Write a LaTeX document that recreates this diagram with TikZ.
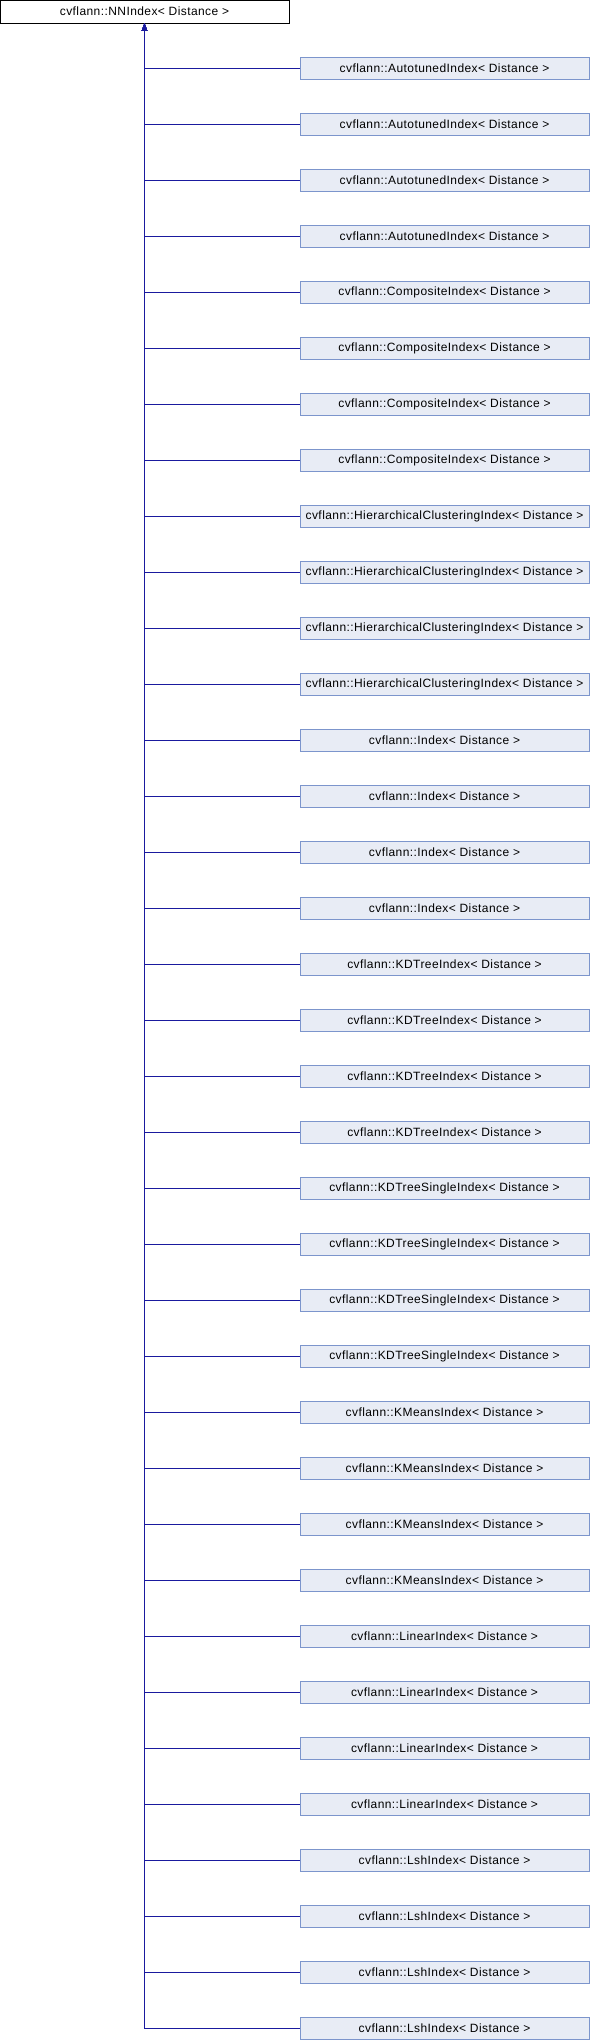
\documentclass[tikz,border=0pt]{standalone}
\usepackage{fontspec}
\setmainfont{Liberation Sans}
\newfontfamily\boxfont[LetterSpace=3.5]{Liberation Sans}
\usepackage{xcolor}
\usetikzlibrary{
    arrows.meta,
    positioning,
    calc
}
\definecolor{edgeblue}{HTML}{1A1A9E}
\definecolor{boxfill}{HTML}{E8ECF5}
\definecolor{boxline}{HTML}{7C95CC}

\begin{document}
\begin{tikzpicture}[x=1pt, y=-1pt,
    basebox/.style={draw=black, fill=white, line width=1pt, minimum width=289pt,
        minimum height=23pt, inner sep=0pt, font=\boxfont\fontsize{12}{14}\selectfont},
    childbox/.style={draw=boxline, fill=boxfill, line width=1pt, minimum width=289pt,
        minimum height=22pt, inner sep=0pt, font=\boxfont\fontsize{12}{14}\selectfont},
    inherit/.style={draw=edgeblue, line width=1pt, -{Triangle[length=7pt, width=5pt]}}
]
    \useasboundingbox (0, 0) rectangle (590, 2040);
    \node[basebox] (base) at (144.5, 11.5) {cvflann::NNIndex< Distance >};
    \foreach \name [count=\i] in {AutotunedIndex, AutotunedIndex, AutotunedIndex, AutotunedIndex,
            CompositeIndex, CompositeIndex, CompositeIndex, CompositeIndex,
            HierarchicalClusteringIndex, HierarchicalClusteringIndex,
            HierarchicalClusteringIndex, HierarchicalClusteringIndex,
            Index, Index, Index, Index,
            KDTreeIndex, KDTreeIndex, KDTreeIndex, KDTreeIndex,
            KDTreeSingleIndex, KDTreeSingleIndex, KDTreeSingleIndex, KDTreeSingleIndex,
            KMeansIndex, KMeansIndex, KMeansIndex, KMeansIndex,
            LinearIndex, LinearIndex, LinearIndex, LinearIndex,
            LshIndex, LshIndex, LshIndex, LshIndex}{
        \node[childbox] (c\i) at (444.5, {68 + 56*(\i-1)}) {cvflann::\name< Distance >};
        \draw[inherit] (c\i.west) -| (base.south);
    }
\end{tikzpicture}
\end{document}
